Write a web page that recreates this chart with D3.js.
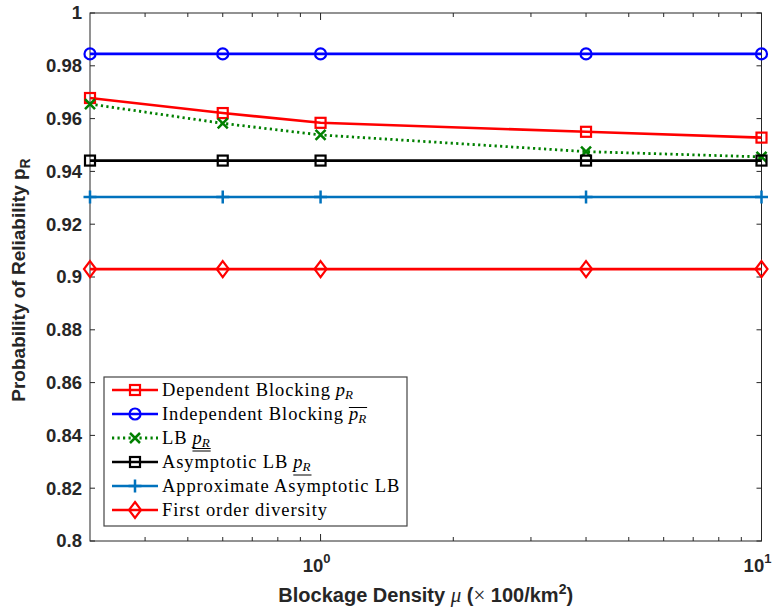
<!DOCTYPE html>
<html>
<head>
<meta charset="utf-8">
<script src="https://cdn.jsdelivr.net/npm/d3@7"></script>
<style>
  body { margin: 0; background: #fff; }
  text { fill: #262626; }
</style>
</head>
<body>
<svg width="774" height="612"></svg>
<script>
// data
var density = [0.3, 0.6, 1, 4, 10];
var dependent = [0.9678, 0.9621, 0.9584, 0.9550, 0.9528];
var independent = [0.9845, 0.9845, 0.9845, 0.9845, 0.9845];
var lowerBound = [0.9655, 0.9582, 0.9538, 0.9475, 0.9455];
var asymptotic = [0.9441, 0.9441, 0.9441, 0.9441, 0.9441];
var approxAsymptotic = [0.9303, 0.9303, 0.9303, 0.9303, 0.9303];
var firstOrder = [0.9030, 0.9030, 0.9030, 0.9030, 0.9030];
var yTicks = [0.8, 0.82, 0.84, 0.86, 0.88, 0.9, 0.92, 0.94, 0.96, 0.98, 1];
var xTicks = [1, 10];
var xMinor = [0.4, 0.5, 0.6, 0.7, 0.8, 0.9, 2, 3, 4, 5, 6, 7, 8, 9];

var svg = d3.select("svg"),
    margin = {left: 90, top: 13, right: 774 - 761.5, bottom: 612 - 541},
    width = 774 - margin.left - margin.right,
    height = 612 - margin.top - margin.bottom,
    g = svg.append("g").attr("transform", "translate(" + margin.left + "," + margin.top + ")");

var x = d3.scaleLog().domain([0.3, 10]).range([0, width]);
var y = d3.scaleLinear().domain([0.8, 1]).range([height, 0]);

var axisColor = "#262626";
var tickFont = "'Liberation Sans', Arial, sans-serif";
var serif = "'Liberation Serif', 'DejaVu Serif', serif";

// frame
g.append("rect")
    .attr("width", width).attr("height", height)
    .attr("fill", "none").attr("stroke", axisColor).attr("stroke-width", 1);

// y ticks (inward, both sides)
yTicks.forEach(function(t) {
  g.append("line").attr("x1", 0).attr("x2", 5).attr("y1", y(t)).attr("y2", y(t))
      .attr("stroke", axisColor);
  g.append("line").attr("x1", width).attr("x2", width - 5).attr("y1", y(t)).attr("y2", y(t))
      .attr("stroke", axisColor);
  g.append("text")
      .attr("x", -8).attr("y", y(t)).attr("dy", "0.35em")
      .attr("text-anchor", "end")
      .style("font-family", tickFont).style("font-weight", "bold").style("font-size", "18.5px")
      .text(d3.format("~g")(t));
});

// x ticks (log)
xTicks.concat(xMinor).forEach(function(t) {
  var len = xTicks.indexOf(t) >= 0 ? 7 : 4;
  g.append("line").attr("x1", x(t)).attr("x2", x(t)).attr("y1", height).attr("y2", height - len)
      .attr("stroke", axisColor);
  g.append("line").attr("x1", x(t)).attr("x2", x(t)).attr("y1", 0).attr("y2", len)
      .attr("stroke", axisColor);
});
xTicks.forEach(function(t) {
  var lab = g.append("text")
      .attr("x", x(t) - 4).attr("y", height + 31)
      .attr("text-anchor", "middle")
      .style("font-family", tickFont).style("font-weight", "bold").style("font-size", "18.5px");
  lab.append("tspan").text("10");
  lab.append("tspan").attr("dy", -9).style("font-size", "13px").text(Math.round(Math.log10(t)));
});

// series
var series = [
  {name: "dep", values: dependent, color: "#ff0000", marker: "square", dash: null},
  {name: "ind", values: independent, color: "#0000ff", marker: "circle", dash: null},
  {name: "lb", values: lowerBound, color: "#008000", marker: "cross", dash: "2.2,3.3"},
  {name: "asy", values: asymptotic, color: "#000000", marker: "square", dash: null},
  {name: "app", values: approxAsymptotic, color: "#0072bd", marker: "plus", dash: null},
  {name: "first", values: firstOrder, color: "#ff0000", marker: "diamond", dash: null}
];

var line = d3.line()
    .x(function(d) { return x(d[0]); })
    .y(function(d) { return y(d[1]); });

function drawMarker(sel, type, color, cx, cy) {
  if (type == "square") {
    sel.append("rect").attr("x", cx - 5).attr("y", cy - 5).attr("width", 10).attr("height", 10)
        .attr("fill", "none").attr("stroke", color).attr("stroke-width", 2.2);
  } else if (type == "circle") {
    sel.append("circle").attr("cx", cx).attr("cy", cy).attr("r", 5.5)
        .attr("fill", "none").attr("stroke", color).attr("stroke-width", 2.2);
  } else if (type == "cross") {
    sel.append("path").attr("d", "M" + (cx - 5) + "," + (cy - 5) + "L" + (cx + 5) + "," + (cy + 5) +
        "M" + (cx - 5) + "," + (cy + 5) + "L" + (cx + 5) + "," + (cy - 5))
        .attr("stroke", color).attr("stroke-width", 2.5);
  } else if (type == "plus") {
    sel.append("path").attr("d", "M" + (cx - 6.5) + "," + cy + "L" + (cx + 6.5) + "," + cy +
        "M" + cx + "," + (cy - 6.5) + "L" + cx + "," + (cy + 6.5))
        .attr("stroke", color).attr("stroke-width", 2.5);
  } else if (type == "diamond") {
    sel.append("path").attr("d", "M" + cx + "," + (cy - 8) + "L" + (cx + 6) + "," + cy +
        "L" + cx + "," + (cy + 8) + "L" + (cx - 6) + "," + cy + "Z")
        .attr("fill", "none").attr("stroke", color).attr("stroke-width", 2.2);
  }
}

series.forEach(function(s) {
  var pts = density.map(function(d, i) { return [d, s.values[i]]; });
  g.append("path").datum(pts)
      .attr("d", line)
      .attr("fill", "none")
      .attr("stroke", s.color)
      .attr("stroke-width", s.dash ? 2.8 : 2.6)
      .attr("stroke-dasharray", s.dash);
  pts.forEach(function(p) {
    drawMarker(g, s.marker, s.color, x(p[0]), y(p[1]));
  });
});

// legend
var legendLabels = ["Dependent Blocking", "Independent Blocking", "LB", "Asymptotic LB",
                    "Approximate Asymptotic LB", "First order diversity"];
var legendMath = ["plain", "over", "double", "under", null, null];

var lg = svg.append("g");
lg.append("rect").attr("x", 104).attr("y", 377).attr("width", 303).attr("height", 149)
    .attr("fill", "#fff").attr("stroke", "#444").attr("stroke-width", 1.2);

series.forEach(function(s, i) {
  var ly = 390 + i * 24;
  lg.append("line").attr("x1", 112).attr("x2", 158).attr("y1", ly).attr("y2", ly)
      .attr("stroke", s.color).attr("stroke-width", s.dash ? 2.8 : 2.6)
      .attr("stroke-dasharray", s.dash);
  drawMarker(lg, s.marker, s.color, 135, ly);
  var t = lg.append("text").attr("x", 162).attr("y", ly + 6)
      .style("font-family", serif).style("font-size", "18.5px").style("letter-spacing", "0.9px")
      .style("fill", "#000")
      .text(legendLabels[i]);
  if (legendMath[i]) {
    var mx = 162 + t.node().getComputedTextLength() + 5;
    var m = lg.append("text").attr("x", mx).attr("y", ly + 6)
        .style("font-family", serif).style("font-size", "18.5px").style("font-style", "italic")
        .style("fill", "#000");
    m.append("tspan").text("p");
    m.append("tspan").attr("dy", 3).style("font-size", "13px").text("R");
    var mw = m.node().getComputedTextLength();
    if (legendMath[i] == "over") {
      lg.append("line").attr("x1", mx).attr("x2", mx + mw + 1).attr("y1", ly - 6.5).attr("y2", ly - 6.5)
          .attr("stroke", "#000").attr("stroke-width", 1);
    } else if (legendMath[i] == "under") {
      lg.append("line").attr("x1", mx).attr("x2", mx + mw + 1).attr("y1", ly + 13).attr("y2", ly + 13)
          .attr("stroke", "#000").attr("stroke-width", 1);
    } else if (legendMath[i] == "double") {
      [10.5, 13].forEach(function(off) {
        lg.append("line").attr("x1", mx).attr("x2", mx + mw + 1).attr("y1", ly + off).attr("y2", ly + off)
            .attr("stroke", "#000").attr("stroke-width", 1);
      });
    }
  }
});

// axis titles
var xt = svg.append("text")
    .attr("x", margin.left + width / 2).attr("y", 602)
    .attr("text-anchor", "middle")
    .style("font-family", tickFont).style("font-weight", "bold").style("font-size", "20px");
xt.append("tspan").text("Blockage Density ");
xt.append("tspan").style("font-family", serif).style("font-style", "italic").style("font-weight", "normal")
    .style("font-size", "21px").text("\u03bc");
xt.append("tspan").text(" (");
xt.append("tspan").style("font-family", serif).style("font-weight", "normal").style("font-size", "21px").text("\u00d7");
xt.append("tspan").text(" 100/km");
xt.append("tspan").attr("dy", -8).style("font-size", "14px").text("2");
xt.append("tspan").attr("dy", 8).text(")");

var yt = svg.append("text")
    .attr("transform", "translate(25," + (margin.top + height / 2 + 3) + ") rotate(-90)")
    .attr("text-anchor", "middle")
    .style("font-family", tickFont).style("font-weight", "bold").style("font-size", "19px");
yt.append("tspan").text("Probability of Reliability p");
yt.append("tspan").attr("dy", 5).style("font-size", "14px").text("R");
</script>
</body>
</html>
